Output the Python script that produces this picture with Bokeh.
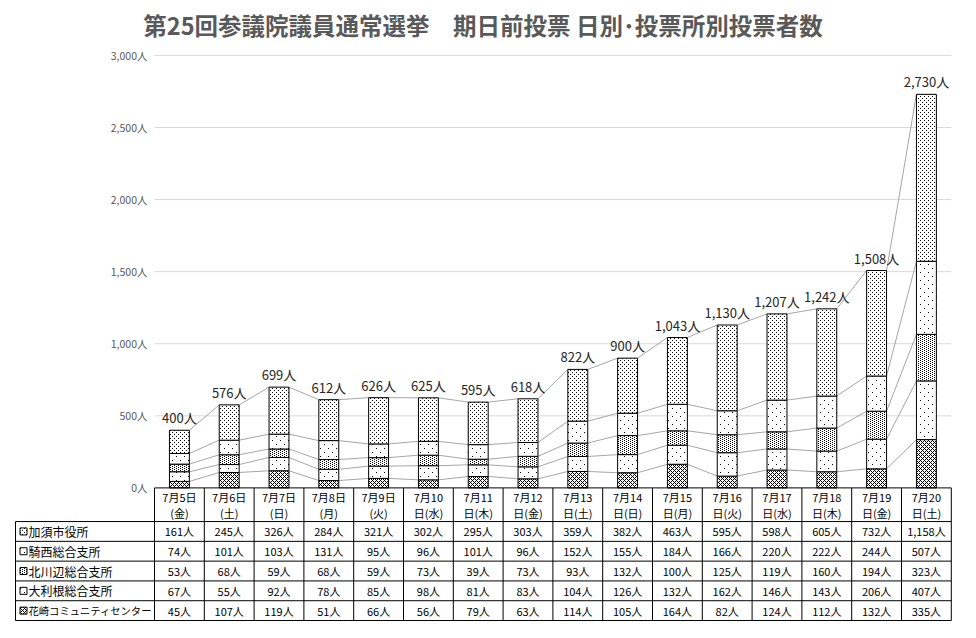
import zlib
import struct
import base64
from bokeh.plotting import figure
from bokeh.models import Range1d, ImageURLTexture
from bokeh.core.properties import value
from bokeh.embed import file_html
from bokeh.resources import INLINE

# ---------------- data ----------------
day_labels = ["7月5日\n(金)", "7月6日\n(土)", "7月7日\n(日)", "7月8日\n(月)", "7月9日\n(火)",
              "7月10\n日(水)", "7月11\n日(木)", "7月12\n日(金)", "7月13\n日(土)", "7月14\n日(日)",
              "7月15\n日(月)", "7月16\n日(火)", "7月17\n日(水)", "7月18\n日(木)", "7月19\n日(金)",
              "7月20\n日(土)"]
series_names = ["加須市役所", "騎西総合支所", "北川辺総合支所", "大利根総合支所", "花崎コミュニティセンター"]
kazo = [161, 245, 326, 284, 321, 302, 295, 303, 359, 382, 463, 595, 598, 605, 732, 1158]
kisai = [74, 101, 103, 131, 95, 96, 101, 96, 152, 155, 184, 166, 220, 222, 244, 507]
kitakawabe = [53, 68, 59, 68, 59, 73, 39, 73, 93, 132, 100, 125, 119, 160, 194, 323]
otone = [67, 55, 92, 78, 85, 98, 81, 83, 104, 126, 132, 162, 146, 143, 206, 407]
hanasaki = [45, 107, 119, 51, 66, 56, 79, 63, 114, 105, 164, 82, 124, 112, 132, 335]
series_values = [kazo, kisai, kitakawabe, otone, hanasaki]
y_ticks = [0, 500, 1000, 1500, 2000, 2500, 3000]
title_text = "第25回参議院議員通常選挙　期日前投票 日別･投票所別投票者数"

# ---------------- layout ----------------
FONT = "Noto Sans CJK JP"
W, H = 960, 622
MB_L, MB_R, MB_T, MB_B = 13, 8, 40, 0
KX = 49.8                      # px per category
X_START = -141 / KX
X_END = X_START + (W - MB_L - MB_R) / KX
KY = 437 / 3000                # px per person
FH = H - MB_T - MB_B
ZERO_PX = 446                  # zero line, px below frame top
Y_END = ZERO_PX / KY
Y_START = -(FH - ZERO_PX) / KY


def ybelow(px):
    return -px / KY


def png_tile(w, h, pts):
    pts = set(pts)
    raw = b""
    for yy in range(h):
        row = bytearray([0])
        for xx in range(w):
            row += bytes([0, 0, 0, 255]) if (xx, yy) in pts else bytes([255, 255, 255, 0])
        raw += bytes(row)

    def chunk(t, d):
        c = struct.pack(">I", len(d)) + t + d
        return c + struct.pack(">I", zlib.crc32(t + d) & 0xffffffff)

    png = (b"\x89PNG\r\n\x1a\n"
           + chunk(b"IHDR", struct.pack(">IIBBBBB", w, h, 8, 6, 0, 0, 0))
           + chunk(b"IDAT", zlib.compress(raw))
           + chunk(b"IEND", b""))
    return "data:image/png;base64," + base64.b64encode(png).decode()


# fill textures (same order as series_names)
tiles = [
    (4, 4, [(0, 0), (2, 2)]),                                   # medium dots
    (8, 8, [(0, 0), (4, 4)]),                                   # sparse dots
    (4, 2, [(0, 0), (2, 1)]),                                   # dense dots
    (8, 8, [(0, 0), (4, 4)]),                                   # sparse dots
    (4, 4, [(0, 0), (1, 1), (2, 2), (3, 3), (1, 3), (3, 1)]),   # crosshatch
]
tile_urls = [png_tile(w, h, pts) for w, h, pts in tiles]


def hatch_kwargs(k, tag):
    key = f"{tag}{k}"
    return dict(hatch_pattern=value(key),
                hatch_extra={key: ImageURLTexture(url=tile_urls[k])})


n = len(day_labels)
xs = [i + 0.5 for i in range(n)]

p = figure(width=W, height=H, output_backend="svg", toolbar_location=None,
           x_range=Range1d(X_START, X_END), y_range=Range1d(Y_START, Y_END),
           min_border_left=MB_L, min_border_right=MB_R, min_border_top=MB_T,
           min_border_bottom=MB_B)
p.xaxis.visible = False
p.yaxis.visible = False
p.grid.visible = False
p.outline_line_color = None
p.background_fill_color = "white"
p.border_fill_color = "white"

p.title.text = title_text
p.title.align = "center"
p.title.text_font = FONT
p.title.text_font_size = "23.5px"
p.title.text_font_style = "bold"
p.title.text_color = "#595959"

# gridlines
grid_y = y_ticks[1:]
p.segment(x0=[0] * len(grid_y), x1=[n] * len(grid_y), y0=grid_y, y1=grid_y,
          line_color="#d9d9d9", line_width=1)

# y labels
p.text(x=[0] * len(y_ticks), y=y_ticks, text=[f"{t:,}人" for t in y_ticks],
       x_offset=-7, text_align="right", text_baseline="middle",
       text_font=value(FONT), text_font_size="10.5px", text_color="#595959")

# stacked bars (bottom series first)
base = [0] * n
tops = []
order = list(range(len(series_names)))[::-1]
bar_specs = []
for k in order:
    vals = series_values[k]
    top = [b + v for b, v in zip(base, vals)]
    bar_specs.append((k, list(base), top))
    tops.append(top)
    base = top
totals = base

# series lines
for top in tops:
    p.segment(x0=[i + 0.7 for i in range(n - 1)], y0=top[:-1],
              x1=[i + 1.3 for i in range(n - 1)], y1=top[1:],
              line_color="#a6a6a6", line_width=1)

for k, bottom, top in bar_specs:
    p.vbar(x=xs, bottom=bottom, top=top, width=0.4, fill_color="white",
           line_color="black", line_width=1, **hatch_kwargs(k, "bar"))

# totals
p.text(x=xs, y=totals, text=[f"{t:,}人" for t in totals], y_offset=-3,
       text_align="center", text_baseline="bottom", text_font=value(FONT),
       text_font_size="13px", text_color="#262626")

# ---------------- data table ----------------
HEADER_PX = 34
ROW_PX = 20
nrows = len(series_names)
table_left = X_START + 2 / KX
bottom_px = HEADER_PX + ROW_PX * nrows

# vertical lines
p.segment(x0=list(range(n + 1)), x1=list(range(n + 1)),
          y0=[0] * (n + 1), y1=[ybelow(bottom_px)] * (n + 1),
          line_color="black", line_width=1)
p.segment(x0=[table_left], x1=[table_left], y0=[ybelow(HEADER_PX)], y1=[ybelow(bottom_px)],
          line_color="black", line_width=1)
# horizontal lines
h_y = [0] + [ybelow(HEADER_PX + ROW_PX * r) for r in range(nrows + 1)]
h_x0 = [0] + [table_left] * (nrows + 1)
p.segment(x0=h_x0, x1=[n] * len(h_y), y0=h_y, y1=h_y, line_color="black", line_width=1)

# header text
line1 = [d.split("\n")[0] for d in day_labels]
line2 = [d.split("\n")[1] for d in day_labels]
p.text(x=xs, y=[ybelow(9)] * n, text=line1, text_align="center", text_baseline="middle",
       text_font=value(FONT), text_font_size="11px", text_color="black")
p.text(x=xs, y=[ybelow(25)] * n, text=line2, text_align="center", text_baseline="middle",
       text_font=value(FONT), text_font_size="11px", text_color="black")

# rows
for r, (name, vals) in enumerate(zip(series_names, series_values)):
    yc = ybelow(HEADER_PX + ROW_PX * r + ROW_PX / 2)
    p.text(x=xs, y=[yc] * n, text=[f"{v:,}人" for v in vals], text_align="center",
           text_baseline="middle", text_font=value(FONT), text_font_size="11px",
           text_color="black")
    p.rect(x=[X_START + 10 / KX], y=[yc], width=7, height=7, width_units="screen",
           height_units="screen", fill_color="white", line_color="black", line_width=1,
           **hatch_kwargs(r, "key"))
    p.text(x=[X_START + 15 / KX], y=[yc], text=[name], text_align="left",
           text_baseline="middle", text_font=value(FONT),
           text_font_size="12px" if len(name) < 8 else "10.3px", text_color="black")

open("out.html", "w").write(file_html(p, INLINE))
